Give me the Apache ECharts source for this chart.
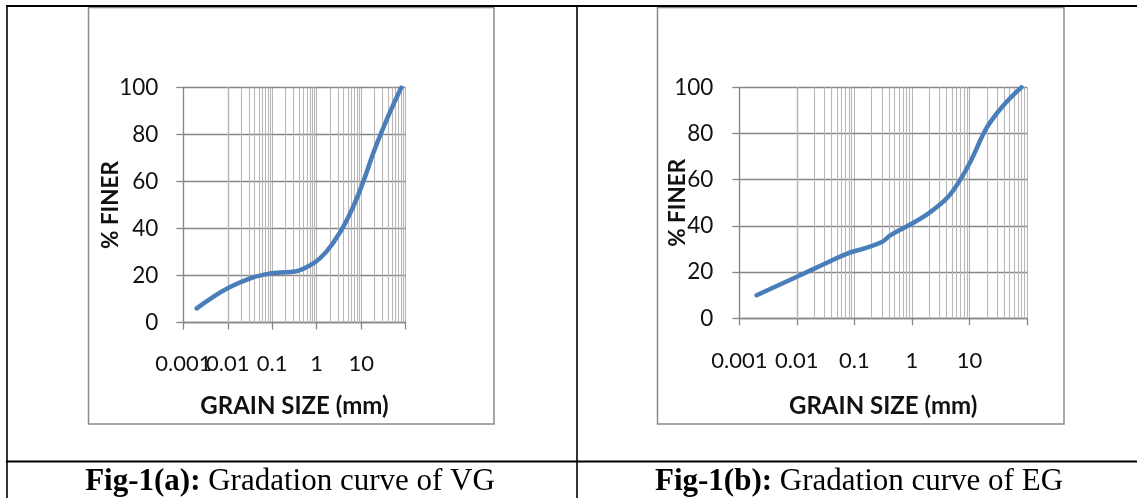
<!DOCTYPE html>
<html><head><meta charset="utf-8">
<script src="https://cdn.jsdelivr.net/npm/echarts@6/dist/echarts.min.js"></script>
<style>html,body{margin:0;padding:0;background:#fff}#c{width:1137px;height:498px}</style>
</head><body><div id="c"></div>
<script>
// ---- data ----
const vgSize  = [0.002, 0.005, 0.01, 0.03, 0.075, 0.15, 0.3, 0.6, 1.18, 2.36, 4.75, 10, 20, 40, 80];
const vgFiner = [6, 11.2, 14.6, 18.6, 20.6, 21.3, 21.6, 23.6, 27.3, 34, 43.5, 57.5, 73.5, 87.5, 100];
const egSize  = [0.002, 0.01, 0.03, 0.075, 0.15, 0.3, 0.425, 1.18, 2.36, 4.75, 10, 20, 40, 80];
const egFiner = [10, 18, 23.5, 28, 30.3, 33, 36, 42, 47, 54, 67, 82.5, 92.5, 100];
const xTickLabels = ['0.001', '0.01', '0.1', '1', '10', ''];
// left chart: labels split over two stacked label rows so the overlapping "0.001"/"0.01" both show
const xTickLabelsA = ['0.001', '', '0.1', '1', '10', ''];
const xTickLabelsB = ['', '0.01', '', '', '', ''];
const decadeStarts = [0.001, 0.01, 0.1, 1, 10];
const minorMultipliers = [2, 3, 4, 5, 6, 7, 8, 9];
const captionA = ['Fig-1(a):', ' Gradation curve of VG'];
const captionB = ['Fig-1(b):', ' Gradation curve of EG'];

const minorValues = [];
decadeStarts.forEach(d => minorMultipliers.forEach(m => minorValues.push(+(d * m).toPrecision(6))));

const LABEL_FONT = 'Lato';
const GRID_DARK = '#868686';
const GRID_LIGHT = '#b8b8b8';
const LINE_BLUE = '#4A7EBB';

function xAxisCfg(idx, nameGap, labelMargin, labels, secondary) {
  return {
    type: 'log', logBase: 10, gridIndex: idx, min: 0.001, max: 100, splitNumber: 5,
    position: 'bottom',
    name: secondary ? '' : 'GRAIN SIZE (mm)', nameLocation: 'middle', nameGap: nameGap, nameMoveOverlap: false,
    nameTextStyle: {fontFamily: LABEL_FONT, fontWeight: 'bold', fontSize: 24, color: '#111'},
    axisLine: {show: !secondary, lineStyle: {color: GRID_DARK, width: 1.3}},
    axisTick: {show: !secondary, inside: false, length: 7, lineStyle: {color: GRID_DARK, width: 1.3}},
    axisLabel: {
      interval: 0, margin: labelMargin, fontFamily: LABEL_FONT, fontSize: 22, color: '#111',
      showMaxLabel: true, showMinLabel: true, hideOverlap: false,
      formatter: v => labels[Math.round(Math.log10(v)) + 3]
    },
    splitLine: {show: !secondary, lineStyle: {color: GRID_LIGHT, width: 1.1}},
    minorTick: {show: false}, minorSplitLine: {show: false}
  };
}
function yAxisCfg(idx, nameGap, labelMargin) {
  return {
    type: 'value', gridIndex: idx, min: 0, max: 100, interval: 20, z: 3,
    name: '% FINER', nameLocation: 'middle', nameGap: nameGap, nameRotate: 90, nameMoveOverlap: false,
    nameTextStyle: {fontFamily: LABEL_FONT, fontWeight: 'bold', fontSize: 22.5, color: '#111'},
    axisLine: {show: true, lineStyle: {color: GRID_DARK, width: 1.3}},
    axisTick: {show: true, inside: false, length: 7, lineStyle: {color: GRID_DARK, width: 1.3}},
    axisLabel: {margin: labelMargin, fontFamily: LABEL_FONT, fontSize: 22.5, color: '#111'},
    splitLine: {show: true, lineStyle: {color: GRID_DARK, width: 1.3}}
  };
}
function pairs(xs, ys) { return xs.map((x, i) => [x, ys[i]]); }
function gridSeries(idx, xs, ys) {
  return {
    type: 'line', xAxisIndex: idx, yAxisIndex: idx, data: pairs(xs, ys), z: 1,
    showSymbol: false, silent: true, lineStyle: {opacity: 0}, animation: false,
    markLine: {
      silent: true, symbol: 'none', animation: false, label: {show: false},
      lineStyle: {color: GRID_LIGHT, type: 'solid', width: 1.1},
      data: minorValues.map(v => ({xAxis: v}))
    }
  };
}
function curveSeries(idx, xs, ys, smooth) {
  return {
    type: 'line', xAxisIndex: idx, yAxisIndex: idx, data: pairs(xs, ys), z: 5,
    smooth: smooth, showSymbol: false, animation: false,
    lineStyle: {color: LINE_BLUE, width: 4.5, cap: 'round', join: 'round'}
  };
}
function caption(cx, parts) {
  return {
    type: 'text', x: cx, y: 482, z: 10,
    style: {
      text: '{b|' + parts[0] + '}{r|' + parts[1] + '}',
      align: 'center', verticalAlign: 'middle',
      rich: {
        b: {fontFamily: 'Liberation Serif', fontWeight: 'bold', fontSize: 31, fill: '#000'},
        r: {fontFamily: 'Liberation Serif', fontSize: 31, fill: '#000'}
      }
    }
  };
}

const chart = echarts.init(document.getElementById('c'), null, {renderer: 'canvas'});
chart.setOption({
  animation: false,
  backgroundColor: '#fff',
  grid: [
    {left: 183.3, top: 87.5, width: 222.3, height: 235},
    {left: 739.3, top: 87.3, width: 287.7, height: 231}
  ],
  xAxis: [
    xAxisCfg(0, 72, 30, xTickLabelsA, false),
    xAxisCfg(1, 76, 32, xTickLabels, false),
    xAxisCfg(0, 72, 30, xTickLabelsB, true)
  ],
  yAxis: [yAxisCfg(0, 61, 25), yAxisCfg(1, 50, 26)],
  series: [
    gridSeries(0, vgSize, vgFiner), curveSeries(0, vgSize, vgFiner, 0.5),
    gridSeries(1, egSize, egFiner), curveSeries(1, egSize, egFiner, 0.4)
  ],
  graphic: [
    {type: 'rect', shape: {x: 88.5, y: 7.5, width: 405.5, height: 416.5}, style: {fill: null, stroke: '#8a8a8a', lineWidth: 1.5}, z: 0, silent: true},
    {type: 'rect', shape: {x: 657.5, y: 7.5, width: 406.5, height: 416.5}, style: {fill: null, stroke: '#8a8a8a', lineWidth: 1.5}, z: 0, silent: true},
    {type: 'line', shape: {x1: 6, y1: 6, x2: 1137, y2: 6}, style: {stroke: '#000', lineWidth: 2}, silent: true},
    {type: 'line', shape: {x1: 7, y1: 6, x2: 7, y2: 498}, style: {stroke: '#000', lineWidth: 1.6}, silent: true},
    {type: 'line', shape: {x1: 577, y1: 6, x2: 577, y2: 498}, style: {stroke: '#000', lineWidth: 1.6}, silent: true},
    {type: 'line', shape: {x1: 6, y1: 461.5, x2: 1137, y2: 461.5}, style: {stroke: '#000', lineWidth: 2}, silent: true},
    caption(290, captionA),
    caption(859, captionB)
  ]
});
</script>
</body></html>
